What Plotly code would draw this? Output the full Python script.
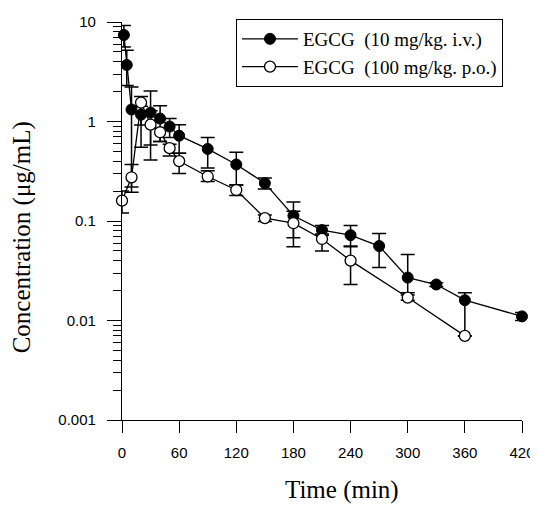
import plotly.graph_objects as go

# i.v. series (filled)
iv_time = [2, 5, 10, 20, 30, 40, 50, 60, 90, 120, 150, 180, 210, 240, 270, 300, 330, 360, 420]
iv_conc = [7.4, 3.7, 1.32, 1.17, 1.23, 1.07, 0.89, 0.72, 0.53, 0.37, 0.24, 0.113, 0.081, 0.072, 0.056, 0.027, 0.023, 0.016, 0.011]
iv_err_up = [1.8, 1.5, 0.9, 0.25, 0.8, 0.37, 0.18, 0.21, 0.16, 0.12, 0.03, 0.042, 0.009, 0.018, 0.019, 0.019, 0.001, 0.003, 0.001]
iv_err_dn = [1.8, 1.4, 1.1, 0.25, 0.82, 0.44, 0.2, 0.24, 0.19, 0.14, 0.03, 0.045, 0.009, 0.016, 0.022, 0.008, 0.001, 0.009, 0.001]

# p.o. series (open)
po_time = [0, 10, 20, 30, 40, 50, 60, 90, 120, 150, 180, 210, 240, 300, 360]
po_conc = [0.16, 0.275, 1.55, 0.93, 0.78, 0.54, 0.40, 0.28, 0.205, 0.107, 0.095, 0.066, 0.040, 0.017, 0.007]
po_err_up = [0.04, 0.095, 0.23, 0.35, 0.08, 0.05, 0.08, 0.04, 0.025, 0.008, 0.03, 0.008, 0.015, 0.001, 0.0]
po_err_dn = [0.04, 0.08, 1.0, 0.35, 0.15, 0.09, 0.10, 0.03, 0.025, 0.008, 0.04, 0.016, 0.017, 0.001, 0.0]

x_ticks = [0, 60, 120, 180, 240, 300, 360, 420]
y_major = [0.001, 0.01, 0.1, 1, 10]
y_major_text = ["0.001", "0.01", "0.1", "1", "10"]
y_minor = [round(m * d, 6) for d in [0.001, 0.01, 0.1, 1] for m in range(2, 10)]

# all y ticks (short), labels only on the decades
y_all_vals = y_major + y_minor
y_all_text = y_major_text + [" "] * len(y_minor)

x_title = "Time (min)"
y_title = "Concentration (\u03bcg/mL)"

serif = "Liberation Serif, Times New Roman, serif"
sans = "Liberation Sans, Arial, sans-serif"

fig = go.Figure()
fig.add_trace(go.Scatter(
    x=iv_time, y=iv_conc, mode="lines+markers",
    name="EGCG\u00a0\u00a0(10 mg/kg. i.v.)",
    line=dict(color="black", width=1.3),
    marker=dict(symbol="circle", size=11, color="black", line=dict(color="black", width=1)),
    error_y=dict(type="data", array=iv_err_up, arrayminus=iv_err_dn, symmetric=False,
                 color="black", thickness=1.5, width=7),
    cliponaxis=False,
))
fig.add_trace(go.Scatter(
    x=po_time, y=po_conc, mode="lines+markers",
    name="EGCG\u00a0\u00a0(100 mg/kg. p.o.)",
    line=dict(color="black", width=1.3),
    marker=dict(symbol="circle", size=11, color="white", line=dict(color="black", width=1.3)),
    error_y=dict(type="data", array=po_err_up, arrayminus=po_err_dn, symmetric=False,
                 color="black", thickness=1.5, width=7),
    cliponaxis=False,
))
# empty helper trace so the overlay axis carrying the long decade ticks is drawn
fig.add_trace(go.Scatter(x=[None], y=[None], yaxis="y2", mode="markers",
                         showlegend=False, hoverinfo="skip"))

# page body has an 8px margin, so figure is sized/offset to land on the reference pixels
fig.update_layout(
    width=530, height=498,
    margin=dict(l=114, r=16, t=13, b=86),
    paper_bgcolor="white", plot_bgcolor="white",
    showlegend=True,
    legend=dict(
        x=0.285, y=1.005, xanchor="left", yanchor="top",
        bordercolor="black", borderwidth=1, bgcolor="white",
        font=dict(family=serif, size=19, color="black"),
        tracegroupgap=0, itemwidth=56,
    ),
    xaxis=dict(
        range=[0, 420], tickvals=x_ticks, showgrid=False, zeroline=False, automargin=False,
        showline=True, linecolor="black", linewidth=1.3,
        ticks="outside", ticklen=12, tickwidth=1.3, tickcolor="black", ticklabelstandoff=7,
        tickfont=dict(family=sans, size=15, color="black"),
    ),
    yaxis=dict(
        type="log", range=[-3, 1], tickmode="array", tickvals=y_all_vals, ticktext=y_all_text,
        showgrid=False, zeroline=False, automargin=False,
        showline=True, linecolor="black", linewidth=1.3,
        ticks="outside", ticklen=8, tickwidth=1.4, tickcolor="black", ticklabelstandoff=14,
        tickfont=dict(family=sans, size=15, color="black"),
    ),
    yaxis2=dict(
        type="log", range=[-3, 1], overlaying="y", side="left", anchor="x",
        tickmode="array", tickvals=y_major, showticklabels=False, showgrid=False, zeroline=False,
        showline=False, automargin=False,
        ticks="outside", ticklen=14, tickwidth=1.3, tickcolor="black",
    ),
    annotations=[
        dict(text=x_title, xref="paper", yref="paper", x=0.55, y=-0.176,
             xanchor="center", yanchor="middle", showarrow=False,
             font=dict(family=serif, size=25, color="black")),
        dict(text=y_title, xref="paper", yref="paper", x=-0.25, y=0.459,
             xanchor="center", yanchor="middle", showarrow=False, textangle=-90,
             font=dict(family=serif, size=25, color="black")),
    ],
)

fig.write_html("out.html")
